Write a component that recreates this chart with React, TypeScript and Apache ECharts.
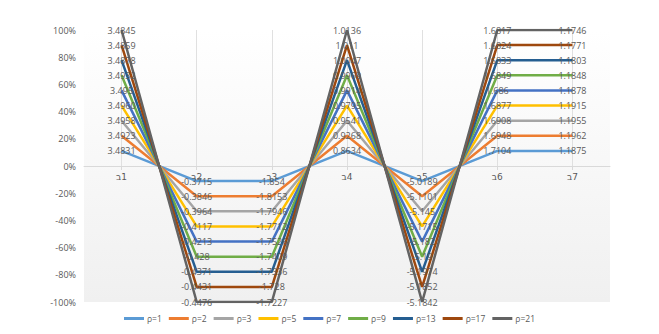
import React, { useEffect, useRef } from "react";
import * as echarts from "echarts";

const categories = ["ב1", "ב2", "ב3", "ב4", "ב5", "ב6", "ב7"];
const seriesNames = ["ρ=1", "ρ=2", "ρ=3", "ρ=5", "ρ=7", "ρ=9", "ρ=13", "ρ=17", "ρ=21"];
const colors = ["#5B9BD5", "#ED7D31", "#A5A5A5", "#FFC000", "#4472C4", "#70AD47", "#255E91", "#9E480E", "#636363"];

// plotted (normalized) values per series
const rho1 = [0.111, -0.111, -0.111, 0.111, -0.111, 0.111, 0.111];
const rho2 = [0.222, -0.222, -0.222, 0.222, -0.222, 0.222, 0.222];
const rho3 = [0.333, -0.333, -0.333, 0.333, -0.333, 0.333, 0.333];
const rho5 = [0.444, -0.444, -0.444, 0.444, -0.444, 0.444, 0.444];
const rho7 = [0.556, -0.556, -0.556, 0.556, -0.556, 0.556, 0.556];
const rho9 = [0.667, -0.667, -0.667, 0.667, -0.667, 0.667, 0.667];
const rho13 = [0.778, -0.778, -0.778, 0.778, -0.778, 0.778, 0.778];
const rho17 = [0.889, -0.889, -0.889, 0.889, -0.889, 0.889, 0.889];
const rho21 = [1.0, -1.0, -1.0, 1.0, -1.0, 1.0, 1.0];

// data labels shown on each point
const lab1 = ["3.4831", "-0.3715", "-1.854", "0.8634", "-5.0189", "1.7104", "1.1875"];
const lab2 = ["3.4923", "-0.3846", "-1.8153", "0.9268", "-5.1101", "1.6948", "1.1962"];
const lab3 = ["3.4958", "-0.3964", "-1.7946", "0.9541", "-5.145", "1.6908", "1.1955"];
const lab5 = ["3.4960", "-0.4117", "-1.7712", "0.9795", "-5.1715", "1.6877", "1.1915"];
const lab7 = ["3.495", "-0.4213", "-1.7526", "0.9914", "-5.182", "1.686", "1.1878"];
const lab9 = ["3.4932", "-0.428", "-1.7409", "0.9969", "-5.19", "1.6849", "1.1848"];
const lab13 = ["3.4878", "-0.4371", "-1.7336", "1.0047", "-5.1974", "1.6833", "1.1803"];
const lab17 = ["3.4859", "-0.4431", "-1.728", "1.011", "-5.1852", "1.6824", "1.1771"];
const lab21 = ["3.4845", "-0.4476", "-1.7227", "1.0136", "-5.1842", "1.6817", "1.1746"];

const values = [rho1, rho2, rho3, rho5, rho7, rho9, rho13, rho17, rho21];
const labels = [lab1, lab2, lab3, lab5, lab7, lab9, lab13, lab17, lab21];

const FONT = "'Open Sans', 'Liberation Sans', sans-serif";

export default function App() {
  const ref = useRef<HTMLDivElement>(null);
  useEffect(() => {
    document.body.style.margin = "0";
    const chart = echarts.init(ref.current!, null, { renderer: "svg" });
    chart.setOption({
      animation: false,
      backgroundColor: "#ffffff",
      textStyle: { fontFamily: FONT },
      grid: [
        {
          left: 84,
          right: 49,
          top: 30,
          bottom: 32,
          show: true,
          borderWidth: 0,
          backgroundColor: new echarts.graphic.LinearGradient(0, 0, 0, 1, [
            { offset: 0, color: "#ffffff" },
            { offset: 1, color: "#f0f0f0" },
          ]),
        },
        // helper grid whose bottom edge sits on the 0% line, carries the category labels
        { left: 84, right: 49, top: 30, bottom: 168, show: false },
      ],
      legend: {
        bottom: 6,
        left: "center",
        icon: "rect",
        itemWidth: 20,
        itemHeight: 3,
        itemGap: 7,
        textStyle: { fontSize: 8.5, color: "#595959", fontFamily: FONT, padding: [0, 0, 0, -2] },
        data: seriesNames,
      },
      xAxis: [
        {
          type: "category",
          gridIndex: 0,
          data: categories,
          boundaryGap: true,
          axisLine: { show: true, onZero: true, lineStyle: { color: "#d9d9d9", width: 1 } },
          axisTick: {
            show: true,
            alignWithLabel: true,
            inside: true,
            length: 136,
            lineStyle: { color: "#e0e0e0" },
          },
          axisLabel: { show: false },
          splitLine: { show: false },
        },
        {
          type: "category",
          gridIndex: 1,
          data: categories,
          boundaryGap: true,
          position: "bottom",
          axisLine: { show: false, onZero: false },
          axisTick: { show: true, alignWithLabel: true, length: 4, lineStyle: { color: "#d9d9d9" } },
          axisLabel: {
            fontSize: 9,
            color: "#595959",
            margin: 6,
            fontFamily: "'DejaVu Sans', sans-serif",
            formatter: (v: string) => "\u202D" + v + "\u202C",
          },
          splitLine: { show: false },
        },
      ],
      yAxis: [
        {
          type: "value",
          gridIndex: 0,
          min: -1,
          max: 1,
          interval: 0.2,
          axisLine: { show: false },
          axisTick: { show: false },
          splitLine: { show: false },
          axisLabel: {
            fontSize: 9,
            color: "#595959",
            margin: 8,
            formatter: (v: number) => Math.round(v * 100) + "%",
          },
        },
        {
          type: "value",
          gridIndex: 1,
          min: 0,
          max: 1,
          show: false,
        },
      ],
      series: seriesNames.map((name, i) => ({
        name,
        type: "line",
        xAxisIndex: 0,
        yAxisIndex: 0,
        data: values[i],
        color: colors[i],
        symbol: "circle",
        symbolSize: 0,
        showSymbol: true,
        lineStyle: { width: 2.5, color: colors[i] },
        itemStyle: { color: colors[i] },
        label: {
          show: true,
          position: "inside",
          fontSize: 9,
          color: "#595959",
          fontFamily: FONT,
          formatter: (p: any) => labels[i][p.dataIndex],
        },
      })),
    });
    return () => chart.dispose();
  }, []);
  return <div ref={ref} style={{ width: 659, height: 334 }} />;
}
